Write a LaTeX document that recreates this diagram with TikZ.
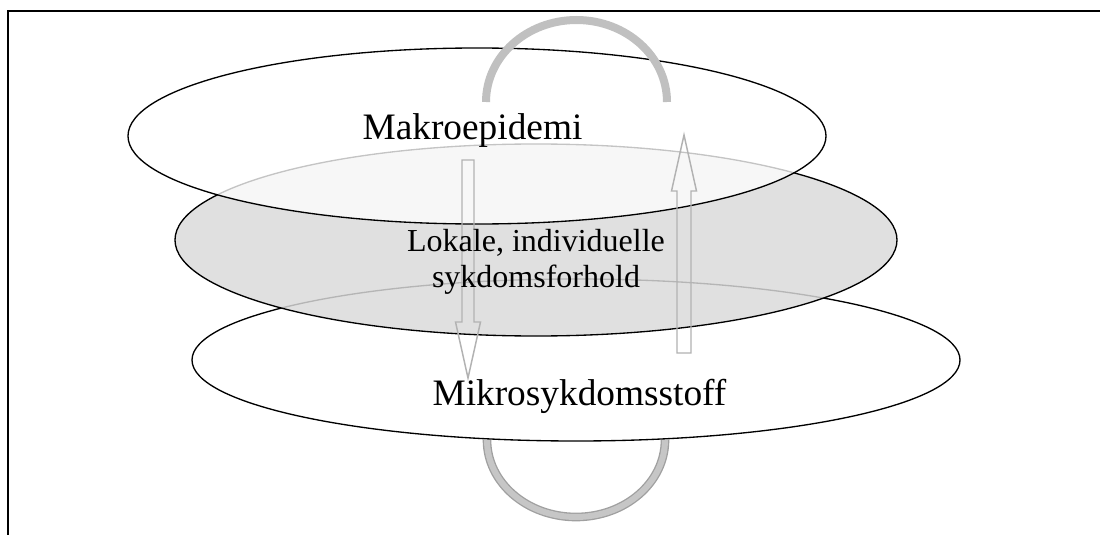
\documentclass[tikz,border=0pt]{standalone}
\usepackage{fontspec}
\setmainfont{Liberation Serif}
\usetikzlibrary{shapes.geometric}
\definecolor{laggrey}{RGB}{218,218,218}
\definecolor{pilgrey}{RGB}{178,178,178}
\definecolor{buegrey}{RGB}{192,192,192}
\definecolor{buekant}{RGB}{160,160,160}
\definecolor{bueinn}{RGB}{198,198,198}
\tikzstyle{lag} = [ellipse, draw=black, line width=1pt, inner sep=0pt]
\tikzstyle{pil} = [draw=pilgrey, line width=1.1pt, fill=none]
\tikzstyle{tittel} = [font=\fontsize{28}{30}\selectfont, inner sep=0pt, anchor=base]

\begin{document}
\begin{tikzpicture}[x=0.75pt, y=-0.75pt]
                        \useasboundingbox (0,0) rectangle (1100,535);
                        \draw[line width=1.5pt] (8,535) -- (8,11) -- (1100,11);

                        % nedre bue
                        \draw[draw=buekant, line width=1pt, double=bueinn, double distance=4.5pt]
                            (487,440) arc[start angle=180, end angle=0, x radius=89, y radius=77];

                        \node (mikro) [lag, fill=white, minimum width=576pt, minimum height=121.5pt] at (576,360) {};
                        \node (lokal) [lag, fill=laggrey, fill opacity=0.83, minimum width=541.5pt, minimum height=144pt] at (536,240) {};
                        \node (makro) [lag, fill=white, fill opacity=0.77, minimum width=523.5pt, minimum height=132pt] at (477,136) {};

                        % oevre bue
                        \draw[buegrey, line width=6pt]
                            (486,102) arc[start angle=180, end angle=360, x radius=90.5, y radius=82];

                        % blokkpiler
                        \draw[pil] (462,160) -- (474,160) -- (474,322) -- (480.5,322) -- (468,378)
                            -- (455.5,322) -- (462,322) -- cycle;
                        \draw[pil] (677,353) -- (691,353) -- (691,191) -- (696.5,191) -- (684,135)
                            -- (671.5,191) -- (677,191) -- cycle;

                        \node (makrotekst) [tittel] at (472.5,140) {Makroepidemi};
                        \node (mikrotekst) [tittel] at (579.5,405) {Mikrosykdomsstoff};
                        \node (lokaltekst) [align=center, inner sep=0pt, font=\fontsize{24}{27}\selectfont] at (536,262) {Lokale, individuelle\\sykdomsforhold};

                    \end{tikzpicture}
\end{document}
